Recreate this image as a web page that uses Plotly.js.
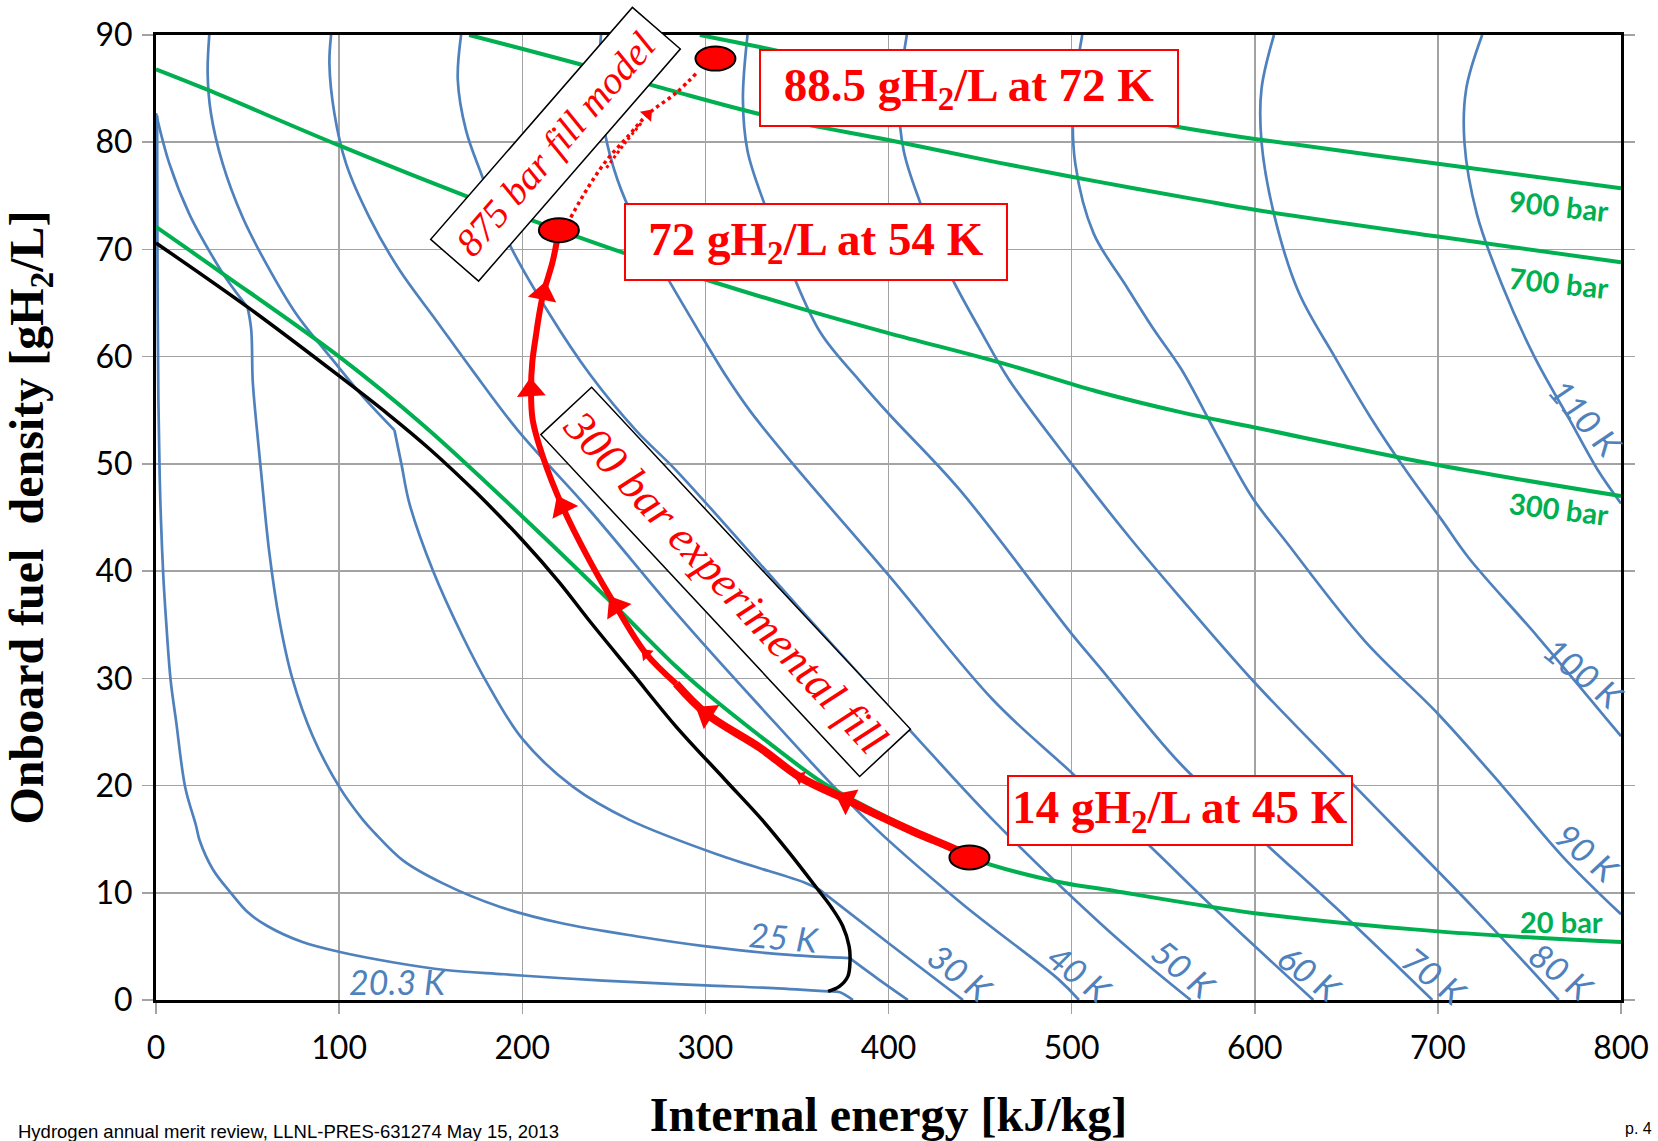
<!DOCTYPE html>
<html><head><meta charset="utf-8">
<script src="https://cdn.plot.ly/plotly-3.0.1.min.js"></script>
<style>html,body{margin:0;padding:0;background:#fff}#chart{width:1658px;height:1141px}</style>
</head><body><div id="chart"></div>
<script>
// ---------- data (internal energy kJ/kg, density gH2/L) ----------
const energyTicks = [0,100,200,300,400,500,600,700,800];
const densityTicks = [0,10,20,30,40,50,60,70,80,90];

// saturation curve
const satU   = [0,51,100,127,150,175,200,220,237,260,284,311,331,346,361,369,375,378.5,379,377.8,373.2,367];
const satRho = [70.6,64.5,58.2,54.6,51.3,47.3,42.9,39.0,35.3,30.5,25.5,20.5,16.8,13.7,10.4,8.6,6.9,5.0,3.75,2.2,1.27,0.8];

// isobars
const p20U   = [0,36,100,146,200,251,284,300,330,362,377,402,444,493,515,600,700,800];
const p20Rho = [72.1,67.8,60.0,53.6,45.1,36.7,31.1,28.7,24.6,20.5,19.0,16.8,13.3,11.0,10.4,8.1,6.4,5.4];
const p300U   = [0,28,100,169,220,255,300,350,400,462,515,560,600,700,800];
const p300Rho = [86.8,84.9,79.7,75.0,71.8,69.7,67.2,64.6,62.2,59.4,56.7,54.8,53.4,49.9,47.0];
const p700U   = [171,233,284,340,400,460,515,570,600,700,800];
const p700Rho = [90,87.2,84.7,82.2,80.2,78.1,76.3,74.6,73.7,71.2,68.8];
const p900U   = [297,329,400,480,559,600,700,800];
const p900Rho = [90,88.9,86.4,83.9,81.4,80.3,78.0,75.7];

// isotherms
const t20U   = [0.6,0.7,0.9,1.3,2.0,2.7,4.0,5.5,8.0,10.9,16,21.8,23.8,31,41.3,50,60.8,80,99.8,130,158,190,220,264,300,337,367,373,380.6];
const t20Rho = [82.5,75,65,56,49,44.8,39.5,35.4,29.8,26.1,19.8,16.3,14.9,12.2,9.9,8.2,6.9,5.4,4.5,3.5,2.8,2.4,2.05,1.64,1.36,1.11,0.8,0.74,0];
const t25U   = [0,7.3,18.2,31,39.1,50,52,52.8,54.6,57.3,61.9,67.4,74.6,85.6,100,113,119.3,135,156.4,187.6,220.4,264,300.5,346,378.8,394,410.6];
const t25Rho = [82.7,78,73.3,69.3,67.1,64.6,62.5,57.8,54.1,49.4,41.7,35.4,29.9,24.6,19.9,16.8,15.6,13.0,10.9,8.7,7.2,5.9,5.0,4.2,3.9,2.0,0];
const t30U   = [29.1,28.2,30,36.4,47.3,60.1,76.5,96.5,112.9,130.2,134,138.4,151.1,167.5,182,200.3,227.6,258.5,309.5,355,362.3,400.8,440.7];
const t30Rho = [90,86.4,82.7,78,73,68.7,64,59.7,56.3,53.15,50,46.3,40.1,33.9,29.2,24.3,19.9,16.8,13.4,10.9,10.3,5.2,0];
const t40U   = [95.6,94.7,97.4,103.8,116.5,132.9,152.9,172.9,197.5,236.7,284,326.5,388,440,493,504];
const t40Rho = [90,87.3,82.7,78,73,68.1,63.4,58.7,53.15,45.7,36.1,28,16.8,9.0,1.9,0];
const t50U   = [166.6,164.8,169.3,177.5,193,214.8,236.7,262.2,284,350,411.5,457,515.3,540,565];
const t50Rho = [90,85.8,81.1,77.1,70.5,64,58.4,53.1,49.4,36.8,25.2,16.8,7.2,3.5,0];
const t60U   = [243,242,245,252,262,277,297,312,325,347.8,400.6,457,500,540,580,632];
const t60Rho = [90,86,81,76.5,72.5,68,62.2,58,54.8,50,39.5,28,21.2,14.8,8.2,0];
const t70U   = [323,320.5,323,331.5,346,363,384,400,438.8,499.8,515,559,600,650,697];
const t70Rho = [90,84,79.2,74.6,68.4,62.2,57.8,54.7,47.6,34.2,31.1,22.1,15.5,7.7,0];
const t80U   = [410,405.8,408.3,416.8,431.5,451,466,500,532.8,559,598.9,640,680,720,766];
const t80Rho = [90,84,79.2,74.6,68.4,62.2,57.8,50,42.9,37.6,29.8,22.5,15.5,8.5,0];
const t90U   = [505.8,501,502,512,529,545,560,580,598.9,616.4,660,700,735,768,800];
const t90Rho = [90,84,78,71.5,66.8,62.5,58.8,52.5,46.8,42.9,33.5,26.7,20,13.4,8.0];
const t100U   = [610.5,603.7,603.7,610.5,624,643.6,663,682.5,702,717,754.4,800];
const t100Rho = [90,85,80,73.3,66,60,54.4,49.4,44.8,41.2,33.9,24.6];
const t110U   = [724.2,715.5,714.5,721.3,735,752.4,772,787.4,800];
const t110Rho = [90,85,80,73.3,66.7,60.1,54.1,49.4,46.3];

// 300 bar experimental fill path (from 14 g/L toward 72 g/L)
const fillU   = [444.2,437,415,391,377,351.5,330,300.5,284,267.6,251.2,236.7,222,211.2,205.7,204.8,205.5,207.5,209.5,211.5,216.5,220];
const fillRho = [13.3,14,15.6,17.5,18.7,20.8,23.5,26.7,29.5,32.3,36.7,41,46,50.7,54.1,56.9,59.5,62,64.2,65.9,68.8,71.8];
// 875 bar fill model (dotted)
const modelU   = [226.5,236,246,258,268.5,284,296];
const modelRho = [73,75.8,78.3,80.6,82.6,84.6,86.6];
const model2U   = [246,256,266];
const model2Rho = [77.6,79.9,82.0];
// state points
const stateU   = [444.2,220,305.5];
const stateRho = [13.3,71.8,87.8];

// ---------- styles ----------
const BLUE='#4f81bd', GREEN='#00b050', RED='#ff0000';
const PXU = 1464.5/800, PXR = 965/90; // pixel per data unit (for arrow orientation)
function ln(x,y,color,width,dash){
  return {type:'scatter',mode:'lines',x:x,y:y,hoverinfo:'skip',showlegend:false,
    line:{color:color,width:width,shape:'spline',smoothing:1,dash:dash||'solid'}};
}
function pieces(x,y,breaks,color,width){
  const out=[]; let s=0;
  breaks.concat([x.length-1]).forEach(b=>{out.push(ln(x.slice(s,b+1),y.slice(s,b+1),color,width)); s=b;});
  return out;
}
function heads(xs,ys,idx,size){
  return {type:'scatter',mode:'markers',hoverinfo:'skip',showlegend:false,cliponaxis:false,
    x:idx.map(i=>xs[i]),y:idx.map(i=>ys[i]),
    marker:{symbol:'triangle-up',size:size,color:RED,line:{width:0},
      angle:idx.map(i=>Math.atan2((xs[i]-xs[i-1])*PXU,(ys[i]-ys[i-1])*PXR)*180/Math.PI)}};
}
const traces=[];
const BW=2.7;
traces.push(...pieces(t20U,t20Rho,[26],BLUE,BW));
traces.push(...pieces(t25U,t25Rho,[5,24],BLUE,BW));
traces.push(...pieces(t30U,t30Rho,[9,20],BLUE,BW));
[[t40U,t40Rho],[t50U,t50Rho],[t60U,t60Rho],[t70U,t70Rho],[t80U,t80Rho],[t90U,t90Rho],[t100U,t100Rho],[t110U,t110Rho]]
  .forEach(a=>traces.push(ln(a[0],a[1],BLUE,BW)));
[[p20U,p20Rho],[p300U,p300Rho],[p700U,p700Rho],[p900U,p900Rho]].forEach(a=>traces.push(ln(a[0],a[1],GREEN,4)));
traces.push(ln(satU,satRho,'black',3.5));
traces.push(ln(fillU.slice(0,9),fillRho.slice(0,9),RED,8));
traces.push(ln(fillU.slice(8),fillRho.slice(8),RED,6));
traces.push(ln(modelU,modelRho,RED,3.5,'dot'));
traces.push(ln(model2U,model2Rho,RED,3,'dot'));
traces.push(heads(fillU,fillRho,[4,7,10,12,15,19],25));
traces.push(heads(fillU,fillRho,[5,9],13));
traces.push(heads(modelU,modelRho,[4],13));

// ---------- annotations ----------
const ann=[];
const serif='Liberation Serif, Times New Roman, serif';
function redBox(text,x,y,w,h){
  ann.push({x:x,y:y,xref:'x',yref:'y',text:'<b>'+text+'</b>',showarrow:false,
    font:{family:serif,size:47,color:RED},bgcolor:'white',bordercolor:RED,borderwidth:2,
    borderpad:1,width:w,height:h,xanchor:'center',yanchor:'middle'});
}
redBox('88.5 gH<sub>2</sub>/L at 72 K',444.2,85.1,414,72);
redBox('72 gH<sub>2</sub>/L at 54 K',360.2,70.7,378,72);
redBox('14 gH<sub>2</sub>/L at 45 K',559,17.7,340,65);

function rotBox(text,x,y,ang,size,w,h){
  ann.push({x:x,y:y,xref:'x',yref:'y',text:'<i>'+text+'</i>',showarrow:false,textangle:ang,
    font:{family:serif,size:size,color:RED},bgcolor:'white',bordercolor:'black',borderwidth:1.5,
    borderpad:2,width:w,height:h,xanchor:'center',yanchor:'middle'});
}
rotBox('875 bar fill model',218,79.8,-49,39,302,58);
rotBox('300 bar experimental fill',310.8,39,47,45,462,64);

const isoLabels=[
  ['20.3 K',132.4,1.7,0],['25 K',342.7,5.9,5],['30 K',439.5,2.6,38],['40 K',504.7,2.5,38],
  ['50 K',561.3,2.9,40],['60 K',630.6,2.5,37],['70 K',698.2,2.3,38],['80 K',768,2.7,38],
  ['90 K',781.9,13.8,40],['100 K',779.6,30.5,39],['110 K',780.7,54.3,49]];
isoLabels.forEach(l=>ann.push({x:l[1],y:l[2],xref:'x',yref:'y',text:'<i>'+l[0]+'</i>',showarrow:false,
  textangle:l[3],font:{family:'Lato, Open Sans, sans-serif',size:34,color:BLUE},xanchor:'center',yanchor:'middle'}));

const barLabels=[['900 bar',766.3,74.1,6],['700 bar',766.3,66.9,6],['300 bar',766.3,45.8,7],['20 bar',767.5,7.3,0]];
barLabels.forEach(l=>ann.push({x:l[1],y:l[2],xref:'x',yref:'y',text:'<b>'+l[0]+'</b>',showarrow:false,
  textangle:l[3],font:{family:'Lato, Open Sans, sans-serif',size:29,color:GREEN},xanchor:'center',yanchor:'middle'}));

ann.push({xref:'paper',yref:'paper',x:(16-156)/1465,y:(1000-1119)/965,xanchor:'left',yanchor:'top',showarrow:false,
  text:'Hydrogen annual merit review, LLNL-PRES-631274 May 15, 2013',font:{family:'Liberation Sans, Arial',size:18.5,color:'black'}});
ann.push({xref:'paper',yref:'paper',x:(1658-4-156)/1465,y:(1000-1118)/965,xanchor:'right',yanchor:'top',showarrow:false,
  text:'p. 4',font:{family:'Liberation Sans, Arial',size:16,color:'black'}});

// state point ellipses
const shapes = stateU.map((u,i)=>({type:'circle',xref:'x',yref:'y',xsizemode:'pixel',ysizemode:'pixel',
  xanchor:u,yanchor:stateRho[i],x0:-20,x1:20,y0:-12,y1:12,fillcolor:RED,line:{color:'black',width:2},layer:'above'}));

const axCommon={showgrid:true,gridcolor:'#a3a3a3',gridwidth:1.5,zeroline:false,showline:true,linecolor:'black',
  linewidth:3,ticks:'outside',ticklen:11,tickwidth:1.5,tickcolor:'#a3a3a3',fixedrange:true,
  tickfont:{family:'Lato, Open Sans, sans-serif',size:32,color:'black'}};
const layout={
  width:1658,height:1141,margin:{l:156,r:37,t:35,b:141},paper_bgcolor:'white',plot_bgcolor:'white',
  showlegend:false,
  xaxis:Object.assign({},axCommon,{range:[0,800],tickmode:'array',tickvals:energyTicks,ticktext:energyTicks.map(String),
    mirror:true,ticklabelstandoff:7,
    title:{text:'<b>Internal energy [kJ/kg]</b>',font:{family:serif,size:48,color:'black'},standoff:32}}),
  yaxis:Object.assign({},axCommon,{range:[0,90],tickmode:'array',tickvals:densityTicks,ticktext:densityTicks.map(String),
    mirror:'allticks',ticklabelstandoff:3,
    title:{text:'<b>Onboard fuel&nbsp; density [gH<sub>2</sub>/L]</b>',font:{family:serif,size:48,color:'black'},standoff:37}}),
  annotations:ann,shapes:shapes
};
Plotly.newPlot('chart',traces,layout,{staticPlot:true,displayModeBar:false});
</script></body></html>
